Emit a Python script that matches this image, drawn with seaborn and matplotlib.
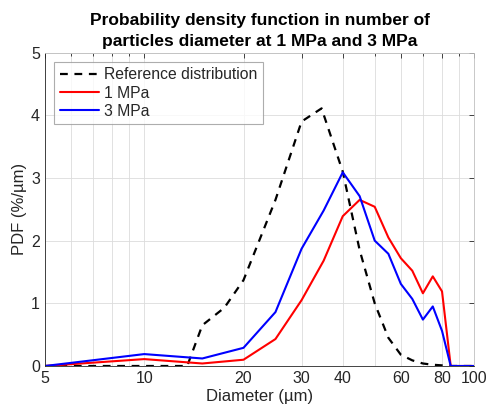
import matplotlib
matplotlib.use("Agg")
import matplotlib.pyplot as plt
import matplotlib.ticker as mticker
import seaborn as sns
import pandas as pd
import numpy as np

# Data
ref_d = [5, 10, 13.5, 15, 17.5, 20, 25, 30, 34.5, 40, 45, 50, 55, 60, 65, 70, 75, 80, 85, 100]
ref_pdf = [0, 0, 0, 0.65, 0.93, 1.37, 2.65, 3.9, 4.11, 3.1, 1.85, 1.0, 0.45, 0.18, 0.09, 0.04, 0.02, 0.01, 0, 0]

d = [5, 10, 15, 20, 25, 30, 35, 40, 45, 50, 55, 60, 65, 70, 75, 80, 85, 90, 95, 100]
pdf_1mpa = [0, 0.11, 0.04, 0.10, 0.43, 1.05, 1.68, 2.39, 2.65, 2.54, 2.05, 1.72, 1.52, 1.16, 1.43, 1.19, 0, 0, 0, 0]
pdf_3mpa = [0, 0.19, 0.12, 0.29, 0.86, 1.87, 2.48, 3.09, 2.71, 2.0, 1.79, 1.31, 1.07, 0.74, 0.95, 0.56, 0, 0, 0, 0]

x_ticks = [5, 10, 20, 30, 40, 60, 80, 100]
y_ticks = [0, 1, 2, 3, 4, 5]

sns.set_style("white")
plt.rcParams['font.family'] = ['Liberation Sans', 'DejaVu Sans']

fig = plt.figure(figsize=(4.9, 4.19), dpi=100)
ax = fig.add_axes([0.0918, 0.1265, 0.8755, 0.748])

df_ref = pd.DataFrame({"d": ref_d, "pdf": ref_pdf})
df1 = pd.DataFrame({"d": d, "pdf": pdf_1mpa})
df3 = pd.DataFrame({"d": d, "pdf": pdf_3mpa})

sns.lineplot(data=df_ref, x="d", y="pdf", ax=ax, color="black", linestyle=(0, (3.5, 3)),
             linewidth=1.6, label="Reference distribution", sort=False)
sns.lineplot(data=df1, x="d", y="pdf", ax=ax, color="#ff0000", linewidth=1.5, label="1 MPa", sort=False)
sns.lineplot(data=df3, x="d", y="pdf", ax=ax, color="#0000ff", linewidth=1.5, label="3 MPa", sort=False)

ax.set_xscale("log")
ax.set_xlim(5, 100)
ax.set_ylim(0, 5)
ax.xaxis.set_major_locator(mticker.FixedLocator(x_ticks))
ax.xaxis.set_major_formatter(mticker.FixedFormatter([str(t) for t in x_ticks]))
minor = [6, 7, 8, 9, 50, 70, 90]
ax.xaxis.set_minor_locator(mticker.FixedLocator(minor))
ax.xaxis.set_minor_formatter(mticker.NullFormatter())
ax.set_yticks(y_ticks)

ax.grid(True, which="both", axis="x", color="#dcdcdc", linewidth=0.6)
ax.grid(True, which="major", axis="y", color="#dcdcdc", linewidth=0.6)
ax.set_axisbelow(True)

for s in ax.spines.values():
    s.set_visible(True)
    s.set_color("#262626")
    s.set_linewidth(0.6)
ax.spines["top"].set_color("#bfbfbf")
ax.spines["right"].set_color("#bfbfbf")

ax.tick_params(which="both", direction="in", top=True, right=True, length=3.5,
               width=0.6, color="#262626", labelsize=11.5, labelcolor="#262626")
ax.tick_params(which="minor", length=2.5)

ax.set_xlabel("Diameter (µm)", fontsize=12, color="#262626", labelpad=2)
ax.set_ylabel("PDF (%/µm)", fontsize=12, color="#262626", labelpad=3)
ax.set_title("Probability density function in number of\nparticles diameter at 1 MPa and 3 MPa",
             fontsize=12.5, fontweight="bold", color="black", linespacing=1.45, pad=5)

leg = ax.legend(loc="upper left", fontsize=11.3, frameon=True, fancybox=False,
                borderaxespad=0.6, handlelength=2.5, handletextpad=0.3,
                labelspacing=0.2, borderpad=0.35)
leg.get_frame().set_edgecolor("#999999")
leg.get_frame().set_linewidth(0.8)
for t in leg.get_texts():
    t.set_color("#262626")

fig.savefig("out.png", dpi=100)
